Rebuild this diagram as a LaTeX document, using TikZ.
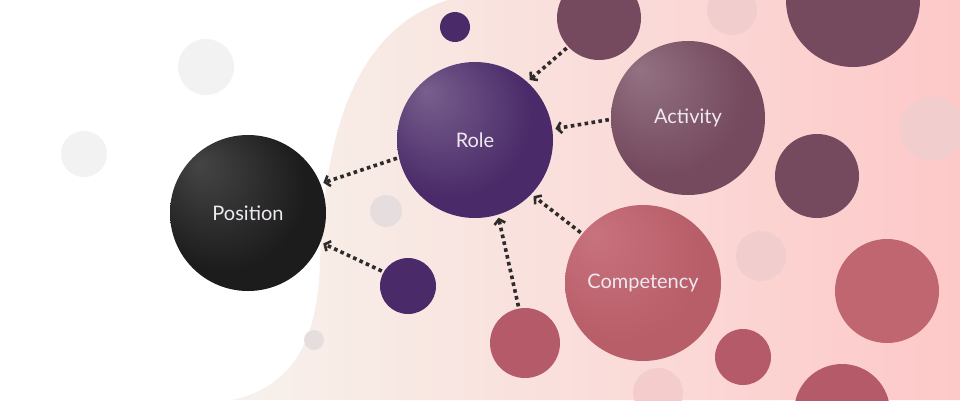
\documentclass[tikz,border=0pt]{standalone}
\usepackage{fontspec}
\newfontfamily\lato{Lato}
\usetikzlibrary{arrows.meta}

% colours
\definecolor{bgL}{HTML}{F7F2EC}
\definecolor{bgR}{HTML}{FDC8C8}
\definecolor{ink}{HTML}{2E2B2B}
\definecolor{coal}{HTML}{1C1C1C}
\definecolor{plum}{HTML}{4A2A68}
\definecolor{mauve}{HTML}{754A5F}
\definecolor{rose}{HTML}{C2636F}
\definecolor{brick}{HTML}{B55A68}
\definecolor{roseB}{HTML}{BF6670}
\definecolor{fogW}{HTML}{F2F2F2}
\definecolor{fogB}{HTML}{E6DEDE}
\definecolor{fogP}{HTML}{F2CDCD}
\definecolor{label}{HTML}{EEE9F0}

% off-centre highlight for the big spheres
\pgfdeclareradialshading[hi,lo]{spot}{\pgfqpoint{-16bp}{16bp}}%
  {color(0bp)=(hi); color(26bp)=(lo); color(50bp)=(lo)}

\tikzset{
  hub/.style n args={3}{circle, inner sep=0pt, minimum size=#1,
    /utils/exec={\colorlet{hi}{#2}\colorlet{lo}{#3}}, shading=spot,
    text=label, font=\lato\fontsize{20}{24}\selectfont},
  dot/.style n args={2}{circle, inner sep=0pt, minimum size=#1, fill=#2},
  link/.style={ink, line width=3.6pt, dash pattern=on 3.6pt off 3.4pt,
    shorten <=2pt, shorten >=3pt,
    -{Straight Barb[length=4.5pt,width=11pt,line width=2.6pt]}}
}

\begin{document}
\begin{tikzpicture}[x=1pt,y=-1pt]
\useasboundingbox (0,0) rectangle (960,400);
\fill[white] (0,0) rectangle (960,400);

% tinted wave on the right
\shade[left color=bgL, right color=bgR]
  (232,400) .. controls (300,385) and (318,330) .. (320,262)
  .. controls (324,140) and (352,30) .. (448,0)
  -- (960,0) -- (960,400) -- cycle;

% faint background bubbles
\node[dot={56pt}{fogW}] (f1) at (206,67) {};
\node[dot={46pt}{fogW}] (f2) at (84,154) {};
\node[dot={32pt}{fogB}] (f3) at (386,211) {};
\node[dot={20pt}{fogB}] (f4) at (314,340) {};
\node[dot={50pt}{fogP}] (f5) at (761,256) {};
\node[dot={64pt}{fogP}] (f6) at (932,129) {};
\node[dot={50pt}{fogP}] (f7) at (732,10) {};
\node[dot={50pt}{fogP!80!bgR}] (f8) at (658,393) {};

% plain bubbles
\node[dot={30pt}{plum}] (p1) at (455,27) {};
\node[dot={56pt}{plum}] (p2) at (408,286) {};
\node[dot={84pt}{mauve}] (m1) at (599,18) {};
\node[dot={134pt}{mauve}] (m2) at (853,0) {};
\node[dot={84pt}{mauve}] (m3) at (817,176) {};
\node[dot={70pt}{brick}] (r1) at (525,343) {};
\node[dot={104pt}{roseB}] (r2) at (887,291) {};
\node[dot={56pt}{brick}] (r3) at (743,357) {};
\node[dot={96pt}{brick}] (r4) at (842,412) {};

% main spheres
\node[hub={156pt}{coal!82!white}{coal}] (pos) at (248,213) {Position};
\node[hub={156pt}{plum!75!white}{plum}] (role) at (475,140) {Role};
\node[hub={154pt}{mauve!78!white}{mauve}] (act) at (688,118) {Activity};
\node[hub={156pt}{rose!90!white}{rose!95!black}] (comp) at (643,283) {Competency};

% dotted connectors
\draw[link] (role.193) -- (pos.22);
\draw[link] (p2.150) -- (pos.-22);
\draw[link] (m1.223) -- (role.48);
\draw[link] (act.181) -- (role.8);
\draw[link] (comp.141) -- (role.-44);
\draw[link] (r1.100) -- (role.-73);
\end{tikzpicture}
\end{document}
